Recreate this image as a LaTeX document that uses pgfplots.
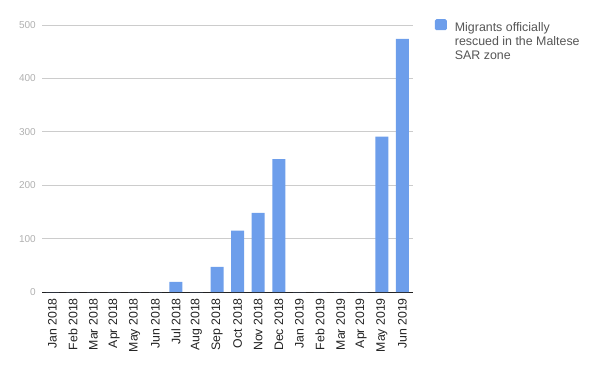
\documentclass[border=0pt]{standalone}
\usepackage{pgfplots}
\pgfplotsset{compat=1.18}
\usepackage{fontspec}
\setmainfont{Liberation Sans}
\definecolor{barblue}{HTML}{6D9EEB}
\definecolor{gridgray}{HTML}{CCCCCC}
\definecolor{ticky}{HTML}{B0B0B0}
\definecolor{tickx}{HTML}{222222}
\definecolor{leggray}{HTML}{555555}
\begin{document}
\begin{tikzpicture}[x=1bp,y=1bp]
\path[use as bounding box] (0,0) rectangle (600,371);
\begin{axis}[
  at={(42bp,79bp)}, anchor=south west,
  scale only axis,
  width=370.7bp, height=267bp,
  xmin=-0.5, xmax=17.5,
  ymin=0, ymax=500,
  ybar, bar width=13bp,
  xtick={0,...,17},
  xticklabels={Jan 2018,Feb 2018,Mar 2018,Apr 2018,May 2018,Jun 2018,Jul 2018,Aug 2018,Sep 2018,Oct 2018,Nov 2018,Dec 2018,Jan 2019,Feb 2019,Mar 2019,Apr 2019,May 2019,Jun 2019},
  x tick label style={rotate=90, anchor=east, font=\fontsize{12.3bp}{13bp}\selectfont, text=tickx, inner sep=0pt},
  xticklabel shift=6bp,
  ytick={0,100,200,300,400,500},
  y tick label style={font=\fontsize{10bp}{12bp}\selectfont, text=ticky, inner sep=0pt},
  yticklabel shift=6bp,
  /pgf/number format/assume math mode=true,
  major tick length=0pt,
  ymajorgrids, grid style={gridgray, line width=0.8bp},
  axis x line*=bottom, axis y line*=left,
  y axis line style={draw=none},
  x axis line style={tickx, line width=1bp, -},
  legend style={at={(rel axis cs:1,1)}, anchor=north west, xshift=20bp, yshift=8bp, draw=none, fill=none,
    font=\fontsize{12.4bp}{14bp}\selectfont, text=leggray, nodes={align=left, anchor=north west}, inner sep=2bp},
  legend image code/.code={\fill[barblue, rounded corners=1.5bp] (0bp,-10bp) rectangle (12bp,1bp); \path (18bp,0bp);},
]
\addplot[fill=barblue, draw=none] coordinates {
(0,0) (1,0) (2,0) (3,0) (4,0) (5,0) (6,19) (7,0) (8,47) (9,115) (10,148) (11,249)
(12,0) (13,0) (14,0) (15,0) (16,291) (17,474)};
\addlegendentry{Migrants officially\\rescued in the Maltese\\SAR zone}
\end{axis}
\end{tikzpicture}
\end{document}
